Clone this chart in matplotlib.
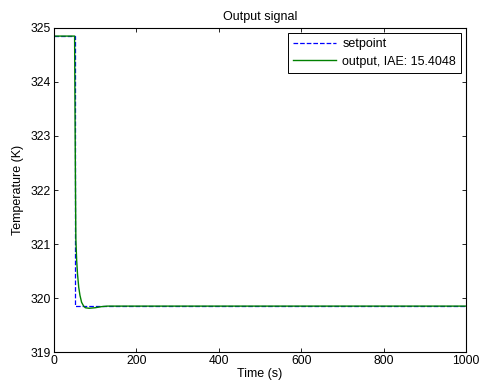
import numpy as np
import matplotlib
matplotlib.use("Agg")
import matplotlib.pyplot as plt

plt.rcParams['font.family'] = ['Liberation Sans', 'DejaVu Sans']
plt.rcParams['font.size'] = 9

# setpoint (step at t=50)
t_sp = [0, 50, 50, 1000]
setpoint = [324.85, 324.85, 319.85, 319.85]

# output
t_out = [0, 50, 51, 52, 53, 55, 57, 60, 63, 67, 72, 76, 85, 100, 115, 130, 1000]
output = [324.85, 324.85, 323.5, 322.2, 321.1, 320.7, 320.45, 320.2, 320.05, 319.92,
          319.85, 319.82, 319.81, 319.82, 319.84, 319.85, 319.85]
iae = 15.4048

fig = plt.figure(figsize=(4.8, 3.92), dpi=100)
ax = fig.add_axes([0.1125, 0.102, 0.8583, 0.8266])

ax.plot(t_sp, setpoint, '--', color=(0, 0, 1), lw=0.9, label='setpoint')
ax.plot(t_out, output, '-', color=(0, 0.5, 0), lw=1.0, label='output, IAE: %.4f' % iae)

ax.set_xlim(0, 1000)
ax.set_ylim(319, 325)
ax.set_xticks(np.arange(0, 1001, 200))
ax.set_yticks(np.arange(319, 326, 1))
ax.tick_params(direction='in', top=True, right=True, length=3, width=0.6, labelsize=8.7, pad=2)
for s in ax.spines.values():
    s.set_linewidth(0.8)

ax.set_title('Output signal', fontsize=9, pad=6)
ax.set_xlabel('Time (s)', labelpad=1)
ax.set_ylabel('Temperature (K)', labelpad=5)

leg = ax.legend(loc='upper right', fancybox=False, edgecolor='black', framealpha=1,
                borderpad=0.4, handlelength=3.4, handletextpad=0.5, labelspacing=0.45,
                borderaxespad=0.4)
leg.get_frame().set_linewidth(0.7)

fig.savefig('out.png', dpi=100)
